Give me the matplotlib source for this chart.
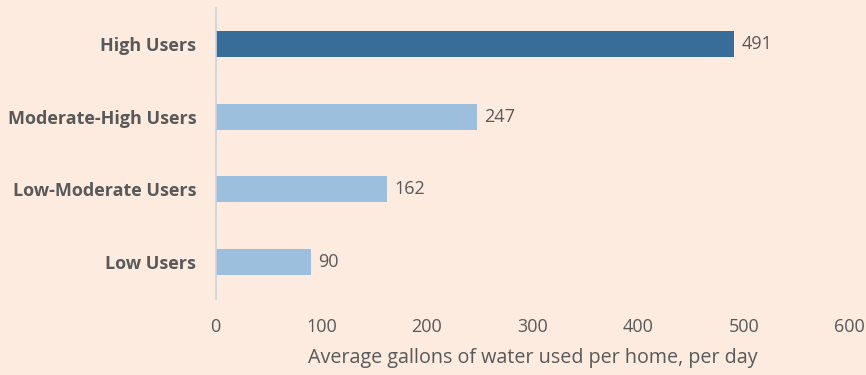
import matplotlib
matplotlib.use("Agg")
import matplotlib.pyplot as plt

categories = ["Low Users", "Low-Moderate Users", "Moderate-High Users", "High Users"]
values = [90, 162, 247, 491]
bar_colors = ["#9cbfdd", "#9cbfdd", "#9cbfdd", "#376d98"]
x_ticks = [0, 100, 200, 300, 400, 500, 600]
x_label = "Average gallons of water used per home, per day"

bg = "#fdebe0"
text_gray = "#595959"

plt.rcParams["font.family"] = ["Open Sans", "DejaVu Sans"]

fig = plt.figure(figsize=(8.66, 3.75), dpi=100, facecolor=bg)
ax = fig.add_axes([0.249, 0.204, 0.732, 0.776], facecolor=bg)

y = range(len(categories))
ax.barh(y, values, height=0.36, color=bar_colors)
for yi, v in zip(y, values):
    ax.text(v + 7, yi, str(v), va="center", ha="left", fontsize=13, color=text_gray)

ax.set_xlim(0, 600)
ax.set_ylim(-0.5, 3.5)
ax.set_xticks(x_ticks)
ax.set_xticklabels([str(t) for t in x_ticks], fontsize=13, color=text_gray)
ax.set_yticks(list(y))
ax.set_yticklabels(categories, fontsize=13, fontweight="bold", color=text_gray)
ax.tick_params(axis="both", length=0)
ax.tick_params(axis="x", pad=14)
ax.tick_params(axis="y", pad=14)
ax.set_xlabel(x_label, fontsize=14.2, color=text_gray, labelpad=9)

for side in ["top", "right", "bottom"]:
    ax.spines[side].set_visible(False)
ax.spines["left"].set_color("#c9d4e0")
ax.spines["left"].set_linewidth(1.2)

fig.savefig("out.png", dpi=100, facecolor=bg)
